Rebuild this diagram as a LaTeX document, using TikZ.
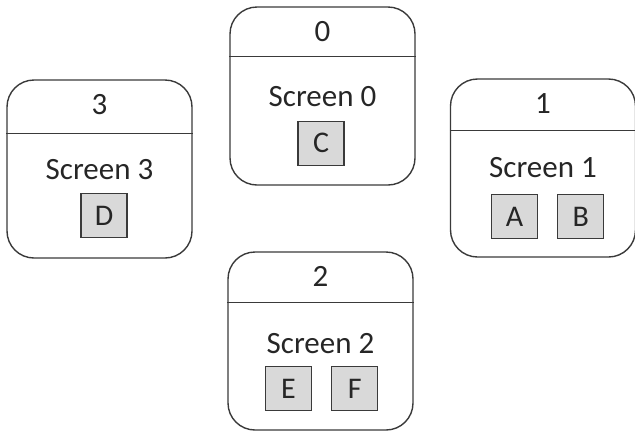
\documentclass[tikz,border=0pt]{standalone}
\usepackage{fontspec}
\setmainfont{Carlito}
\usepackage{tikz}
\usetikzlibrary{positioning}
\definecolor{edgegray}{HTML}{3A3A3A}
\definecolor{itemgray}{HTML}{D9D9D9}

\begin{document}
\begin{tikzpicture}[
    x=0.5pt, y=-0.5pt,
    screen/.style={rectangle, rounded corners=13.5pt, draw=edgegray, line width=0.7pt, minimum width=92.5pt, minimum height=89pt, inner sep=0pt},
    caption/.style={font=\fontsize{15.5}{18}\selectfont, text=black!85, inner sep=0pt},
    item/.style={rectangle, draw=edgegray, line width=0.6pt, fill=itemgray, minimum width=23pt, minimum height=22pt, inner sep=0pt, font=\fontsize{15}{18}\selectfont, text=black!85},
    divider/.style={draw=edgegray, line width=0.7pt}
]
    \useasboundingbox (0,0) rectangle (635,430);

    % the four screens
    \node[screen] (s0) at (322.5,96) {};
    \node[screen] (s3) at (99.5,169) {};
    \node[screen] (s1) at (543,168) {};
    \node[screen] (s2) at (320.5,341) {};

    % headers
    \node[caption] (t0) at ([yshift=-12.5pt]s0.north) {0};
    \node[caption] (t3) at ([yshift=-12.5pt]s3.north) {3};
    \node[caption] (t1) at ([yshift=-12.5pt]s1.north) {1};
    \node[caption] (t2) at ([yshift=-12.5pt]s2.north) {2};
    \draw[divider] ([yshift=-25pt]s0.north west) -- ([yshift=-25pt]s0.north east);
    \draw[divider] ([yshift=-27pt]s3.north west) -- ([yshift=-27pt]s3.north east);
    \draw[divider] ([yshift=-26pt]s1.north west) -- ([yshift=-26pt]s1.north east);
    \draw[divider] ([yshift=-25.5pt]s2.north west) -- ([yshift=-25.5pt]s2.north east);

    % screen names
    \node[caption] (n0) at ([yshift=-45pt]s0.north) {Screen 0};
    \node[caption] (n3) at ([yshift=-45pt]s3.north) {Screen 3};
    \node[caption] (n1) at ([yshift=-44.5pt]s1.north) {Screen 1};
    \node[caption] (n2) at ([yshift=-46pt]s2.north) {Screen 2};

    % items on each screen
    \node[item] (c) at ([xshift=-0.75pt, yshift=-68.5pt]s0.north) {C};
    \node[item] (d) at ([xshift=2.25pt, yshift=-68.25pt]s3.north) {D};
    \node[item] (a) at ([xshift=-14.25pt, yshift=-69.25pt]s1.north) {A};
    \node[item, right=9.5pt of a] (b) {B};
    \node[item] (e) at ([xshift=-16pt, yshift=-68.75pt]s2.north) {E};
    \node[item, right=9.5pt of e] (f) {F};
\end{tikzpicture}
\end{document}
